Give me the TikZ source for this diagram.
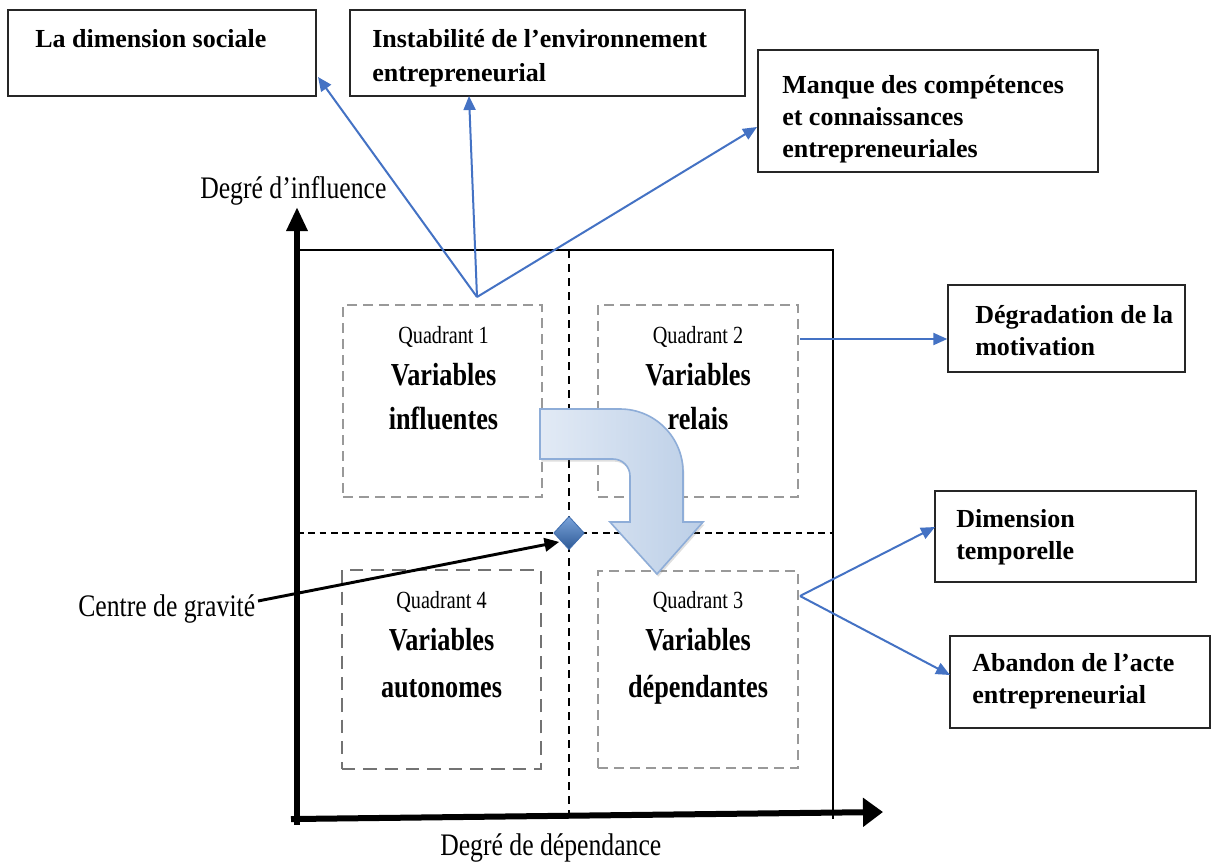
\documentclass[tikz,border=0pt]{standalone}
\usepackage{fontspec}
\setmainfont{Liberation Serif}
\newfontfamily\condserif[FakeStretch=0.82]{Liberation Serif}
\usetikzlibrary{arrows.meta,shadows,fit,shapes.geometric}
\definecolor{linkblue}{HTML}{4472C4}
\definecolor{arrowlight}{HTML}{E2EAF5}
\definecolor{arrowdark}{HTML}{BCCFE7}
\definecolor{arrowedge}{HTML}{8EADD8}
\definecolor{gemtop}{HTML}{7AA3DA}
\definecolor{gembottom}{HTML}{2E5A96}
\definecolor{gemedge}{HTML}{3F6DAE}
\begin{document}
\begin{tikzpicture}[x=0.75pt,y=-0.75pt,
  labelbox/.style={draw=black!85, line width=1pt, inner sep=0pt},
  boxtext/.style={anchor=base west, align=left, inner sep=0pt, font=\fontsize{19.5}{24}\selectfont\bfseries},
  quadbox/.style={draw=black!40, line width=1.1pt, dash pattern=on 7.5pt off 4.5pt, inner sep=0pt},
  quadboxdark/.style={draw=black!55, line width=2.2pt, dash pattern=on 10pt off 6pt, inner sep=0pt},
  quadtitle/.style={anchor=base, inner sep=0pt, font=\condserif\fontsize{18.5}{20}\selectfont},
  quadname/.style={anchor=base, inner sep=0pt, font=\condserif\bfseries\fontsize{24}{26}\selectfont},
  axislabel/.style={anchor=base west, inner sep=0pt, font=\condserif\fontsize{23.5}{26}\selectfont},
  link/.style={draw=linkblue, line width=1.5pt, -{Triangle[length=10.5pt,width=9pt]}},
  gridline/.style={draw=black, line width=1.1pt},
  vdash/.style={draw=black, line width=1.1pt, dash pattern=on 6pt off 4.5pt},
  hdash/.style={draw=black, line width=1.1pt, dash pattern=on 5pt off 3.5pt},
  bigarrow/.style={left color=arrowlight, right color=arrowdark, draw=arrowedge, line width=1.2pt,
    drop shadow={opacity=0.25, shadow xshift=1pt, shadow yshift=-2pt}},
  gravarrow/.style={draw=black, line width=2.2pt, -{Triangle[length=11pt,width=10pt]}, shorten >=1.5pt}
]
\useasboundingbox (0,0) rectangle (1213,864);
\fill[white] (0,0) rectangle (1213,864);

% outer frame
\coordinate (origin) at (297,819);
\coordinate (frametl) at (297,250);
\coordinate (frametr) at (833,250);
\coordinate (framebr) at (833,819);
\draw[gridline] (frametl) -- (frametr) -- (framebr);

% quadrant separators
\coordinate (vtop) at (569,250);
\coordinate (vbot) at (569,819);
\coordinate (hleft) at (297,533);
\coordinate (hright) at (833,533);
\draw[vdash] (vtop) -- (vbot);
\draw[hdash] (hleft) -- (hright);

% quadrant boxes
\node[quadbox, fit={(343,305) (542,497)}] (q1) {};
\node[quadbox, fit={(598,305) (798,497)}] (q2) {};
\node[quadbox, fit={(598,571) (798,768)}] (q3) {};
\node[quadboxdark, fit={(342,570) (541,769)}] (q4) {};

\node[quadtitle] (q1a) at (443.5,343) {Quadrant 1};
\node[quadname]  (q1b) at (443.5,385) {Variables};
\node[quadname]  (q1c) at (443.5,429) {influentes};

\node[quadtitle] (q2a) at (698,343) {Quadrant 2};
\node[quadname]  (q2b) at (698,385) {Variables};
\node[quadname]  (q2c) at (698,429) {relais};

\node[quadtitle] (q4a) at (441.5,608) {Quadrant 4};
\node[quadname]  (q4b) at (441.5,650) {Variables};
\node[quadname]  (q4c) at (441.5,697) {autonomes};

\node[quadtitle] (q3a) at (698,608) {Quadrant 3};
\node[quadname]  (q3b) at (698,650) {Variables};
\node[quadname]  (q3c) at (698,697) {dépendantes};

% big curved arrow
\path[bigarrow] (540,409) -- (620,409) arc[start angle=-90, end angle=0, radius=63]
  -- (683,522) -- (703,522) -- (657,574) -- (610,522) -- (630,522) -- (630,476)
  arc[start angle=0, end angle=-90, radius=17] -- (540,459) -- cycle;

% centre of gravity
\node[diamond, shape aspect=1, minimum width=23pt, minimum height=25pt, inner sep=0pt,
  top color=gemtop, bottom color=gembottom, draw=gemedge, line width=0.6pt] (grav) at (569,533) {};

% axes
\coordinate (ytip) at (297,207);
\coordinate (xtip) at (883,812);
\draw[line width=4.5pt, line cap=rect, -{Triangle[length=18pt,width=15pt]}] (297,822) -- (ytip);
\draw[line width=4.5pt, line cap=rect, -{Triangle[length=15pt,width=21pt]}] (294,819) -- (xtip);

\node[axislabel] (ylab) at (200,198) {Degré d’influence};
\node[axislabel] (xlab) at (440,855) {Degré de dépendance};
\node[axislabel] (cglab) at (78,616) {Centre de gravité};
\coordinate (cgstart) at (258,601);
\draw[gravarrow] (cgstart) -- (grav.south west);

% label boxes
\node[labelbox, fit={(8,10) (316,96)}] (b1) {};
\node[labelbox, fit={(350,10) (745,96)}] (b2) {};
\node[labelbox, fit={(758,50) (1098,172)}] (b3) {};
\node[labelbox, fit={(948,285) (1185,372)}] (b4) {};
\node[labelbox, fit={(935,491) (1196,582)}] (b5) {};
\node[labelbox, fit={(950,636) (1210,728)}] (b6) {};

% multi-line texts: base anchor is the baseline of the last line
\node[boxtext] (t1) at (35,47) {La dimension sociale};
\node[boxtext, font=\fontsize{19.5}{25.5}\selectfont\bfseries] (t2) at (372,81) {Instabilité de l’environnement\\entrepreneurial};
\node[boxtext] (t3) at (782,157) {Manque des compétences\\et connaissances\\entrepreneuriales};
\node[boxtext] (t4) at (975,355) {Dégradation de la\\motivation};
\node[boxtext] (t5) at (956,559) {Dimension\\temporelle};
\node[boxtext, font=\fontsize{19.5}{23.5}\selectfont\bfseries] (t6) at (972,703) {Abandon de l’acte\\entrepreneurial};

% blue connectors
\coordinate (hub) at (477,297);
\coordinate (e1) at (318,77);
\coordinate (e2) at (469,96);
\coordinate (e3) at (757,127);
\draw[link] (hub) -- (e1);
\draw[link] (hub) -- (e2);
\draw[link] (hub) -- (e3);

\coordinate (s4) at (800,339);
\draw[link] (s4) -- (b4.west |- s4);

\coordinate (s5) at (800,596);
\coordinate (e5) at (935,527);
\coordinate (e6) at (950,675);
\draw[link] (s5) -- (e5);
\draw[link] (s5) -- (e6);
\end{tikzpicture}
\end{document}
